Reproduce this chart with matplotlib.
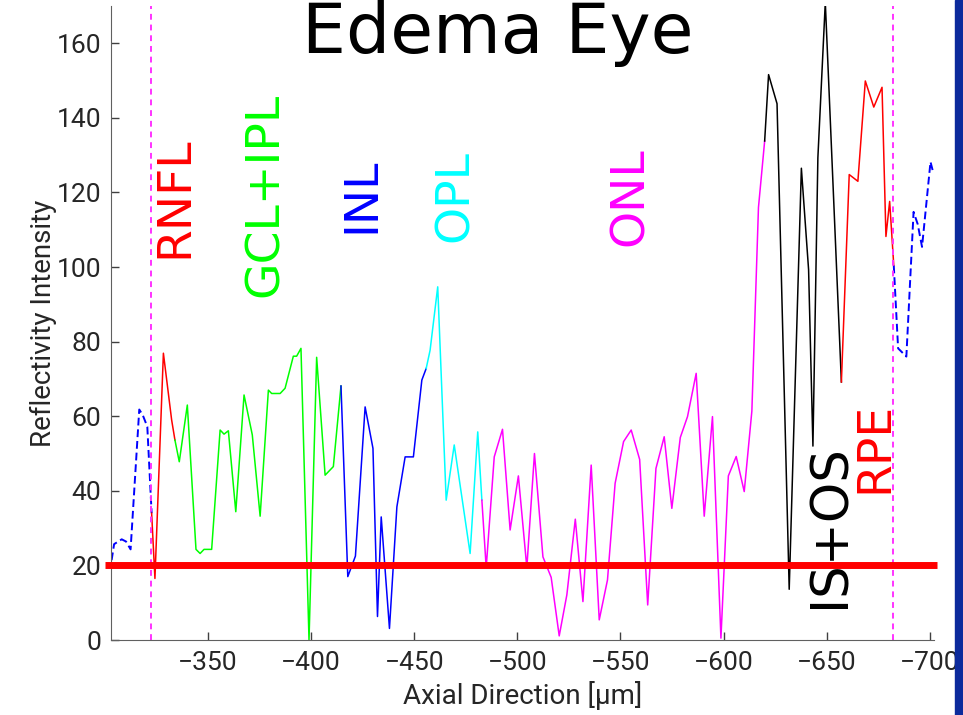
import numpy as np
import matplotlib
matplotlib.use('Agg')
import matplotlib.pyplot as plt
from matplotlib.patches import Rectangle
from matplotlib import font_manager

# profile (axial position in um, reflectivity)
depth = [-303.3, -304.5, -308.2, -310.3, -312.5, -316.7, -318.4, -320.6, -322.7,
         -324.3, -328.4, -332.4, -334.0, -336.1, -340.0, -344.2, -346.2, -348.1,
         -351.8, -355.9, -357.8, -359.9, -363.5, -367.5, -371.5, -375.3, -379.3,
         -380.9, -385.0, -387.4, -391.4, -393.0, -395.1, -399.0, -402.7, -406.8,
         -410.8, -414.5, -417.8, -421.5, -426.2, -430.0, -432.2, -434.0, -438.0,
         -441.6, -445.6, -449.6, -453.7, -455.8, -457.7, -461.4, -465.5, -469.4,
         -477.1, -480.8, -482.8, -484.9, -488.8, -492.8, -496.5, -500.5, -504.6,
         -508.3, -512.4, -516.4, -520.3, -524.0, -528.1, -531.8, -535.8, -539.7,
         -543.7, -547.4, -551.5, -555.2, -559.3, -563.2, -567.2, -571.2, -574.9,
         -579.0, -582.5, -586.7, -590.6, -594.6, -598.7, -602.3, -606.1, -610.0,
         -613.7, -616.9, -619.9, -621.8, -625.9, -631.8, -637.7, -641.2, -643.3,
         -645.7, -649.3, -657.1, -660.9, -665.1, -668.7, -672.8, -676.8, -678.7,
         -680.5, -682.5, -684.6, -688.6, -692.1, -694.1, -696.2, -700.3, -701.6]
intensity = [21.4, 25.7, 27.0, 26.4, 24.3, 61.8, 60.3, 57.2, 34.0,
             16.5, 76.9, 59.0, 53.6, 47.8, 63.0, 24.3, 23.2, 24.3,
             24.3, 56.3, 55.2, 56.1, 34.4, 65.7, 55.0, 33.2, 67.0,
             66.1, 66.1, 67.5, 76.1, 76.1, 78.2, 0.0, 75.8, 44.2,
             46.5, 68.1, 17.0, 22.5, 62.5, 51.4, 6.3, 33.0, 3.1,
             35.7, 49.1, 49.1, 69.7, 72.8, 77.7, 94.7, 37.5, 52.3,
             23.2, 55.8, 37.5, 19.4, 49.1, 56.5, 29.5, 44.0, 19.4,
             50.0, 22.3, 16.8, 1.1, 12.1, 32.4, 10.3, 46.9, 5.4,
             16.1, 42.0, 53.2, 56.3, 48.4, 9.4, 46.0, 54.5, 35.3,
             54.3, 59.9, 71.5, 33.2, 59.9, 0.5, 44.0, 49.2, 39.8,
             61.4, 116.0, 133.8, 151.6, 143.8, 13.6, 126.5, 99.3, 52.0,
             129.3, 171.0, 69.2, 124.8, 123.0, 149.9, 142.9, 148.2, 108.2,
             117.6, 100.4, 78.2, 76.0, 114.8, 111.5, 105.4, 128.2, 125.4]

# layer boundaries and names
bounds = [-303.3, -322.7, -334.0, -414.5, -455.8, -482.8, -619.9, -657.1, -682.5, -701.6]
layer_names = [None, 'RNFL', 'GCL+IPL', 'INL', 'OPL', 'ONL', 'IS+OS', 'RPE', None]
layer_colors = ['#0000ff', '#ff0000', '#00ff00', '#0000ff', '#00ffff',
                '#ff00ff', '#000000', '#ff0000', '#0000ff']
label_x = [None, -334.0, -377.7, -424.7, -469.8, -554.7, -651.7, -673.5, None]
label_y = [None, 118.8, 119.3, 119.3, 119.0, 119.0, 30.6, 51.7, None]
roi_limits = [-322.5, -682.3]
threshold = 20

# narrow font for the axis texts, if one is there
names = set(f.name for f in font_manager.fontManager.ttflist)
axis_font = 'DejaVu Sans'
for cand in ['Liberation Sans Narrow', 'DejaVu Sans Condensed', 'Roboto']:
    if cand in names:
        axis_font = cand
        break

x = np.array(depth)
y = np.array(intensity)

fig = plt.figure(figsize=(9.63, 7.15), dpi=100)
ax = fig.add_axes([111/963, 75/715, (934-111)/963, (640-6)/715])

for i in range(len(layer_colors)):
    lo, hi = bounds[i], bounds[i+1]
    m = (x <= lo + 1e-6) & (x >= hi - 1e-6)
    if layer_names[i] is None:
        ax.plot(x[m], y[m], color=layer_colors[i], lw=1.4, ls=(0, (4, 2)))
    else:
        ax.plot(x[m], y[m], color=layer_colors[i], lw=1.1)
        fs = 37 if layer_names[i] == 'IS+OS' else 34
        ax.text(label_x[i], label_y[i], layer_names[i], color=layer_colors[i],
                rotation=90, ha='center', va='center', fontsize=fs)

for xv in roi_limits:
    ax.axvline(xv, color='#ff33ff', lw=1.4, ls=(0, (3, 2.5)))

ax.plot([-300.0, -703.6], [threshold, threshold], color='#ff0000', lw=5,
        clip_on=False, solid_capstyle='butt', zorder=5)

ax.set_xlim(-303, -702)
ax.set_ylim(0, 170)
ax.set_xticks(np.arange(-350, -701, -50))
ax.set_yticks(np.arange(0, 161, 20))
ax.tick_params(direction='in', length=6, width=1, colors='#404040',
               labelcolor='#262626', labelsize=19)
ax.tick_params(axis='x', pad=8)
ax.tick_params(axis='y', pad=7)
for lab in ax.get_xticklabels() + ax.get_yticklabels():
    lab.set_family(axis_font)
for s in ['top', 'right']:
    ax.spines[s].set_visible(False)
for s in ['left', 'bottom']:
    ax.spines[s].set_color('#606060')
ax.set_xlabel('Axial Direction [µm]', fontsize=20, color='#262626', labelpad=4,
              family=axis_font)
ax.set_ylabel('Reflectivity Intensity', fontsize=20, color='#262626', labelpad=0,
              family=axis_font)

fig.text(498/963, (715-53)/715, 'Edema Eye', ha='center', va='baseline',
         fontsize=50, color='black')
fig.patches.append(Rectangle((955/963, 0), 8/963, 1, transform=fig.transFigure,
                             color='#0c2a9c', zorder=10))

plt.savefig('out.png', dpi=100)
